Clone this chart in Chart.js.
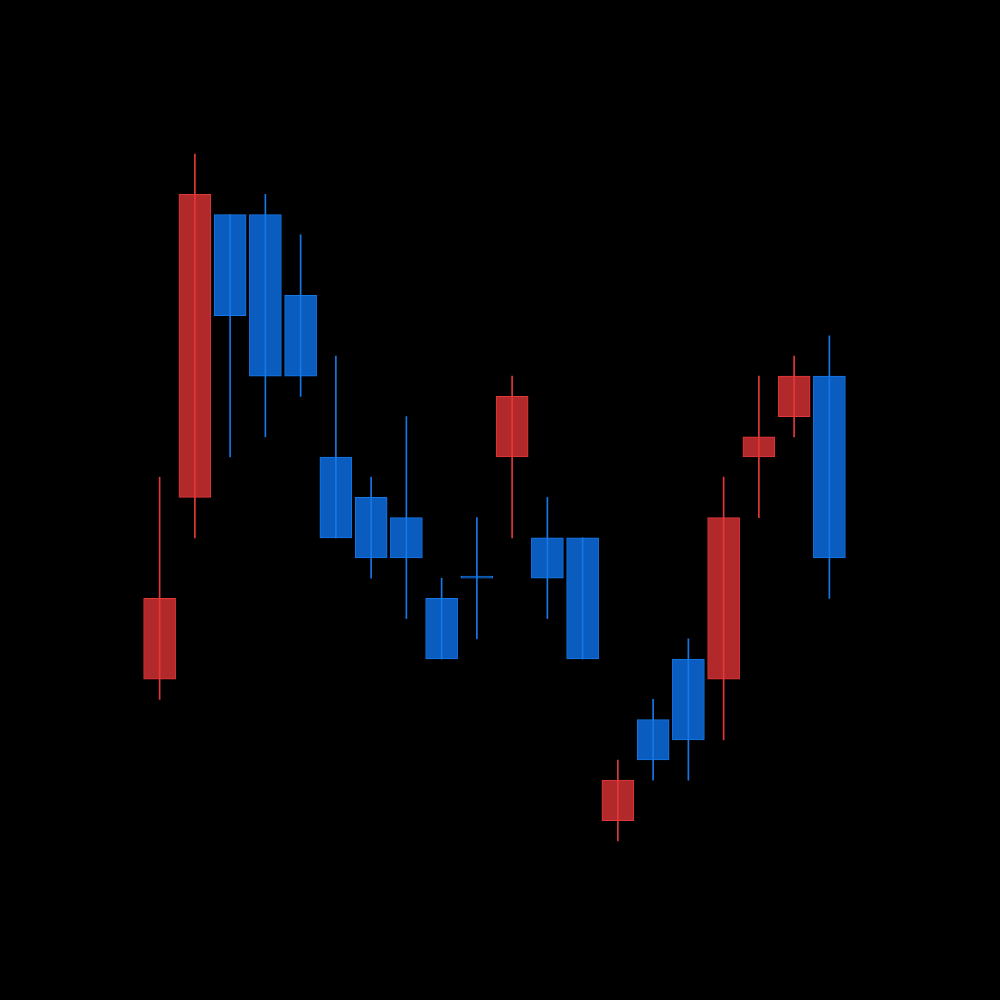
<!DOCTYPE html>
<html>
<head>
<meta charset="utf-8">
<script src="https://cdn.jsdelivr.net/npm/chart.js@4.4.1/dist/chart.umd.min.js"></script>
<style>
  html, body { margin: 0; padding: 0; background: #000; }
  #wrap { width: 1000px; height: 1000px; position: relative; background: #000; }
</style>
</head>
<body>
<div id="wrap"><canvas id="c"></canvas></div>
<script>
const categories = ['1','2','3','4','5','6','7','8','9','10','11','12','13','14','15','16','17','18','19','20'];
const opens  = [ 9, 18, 32, 32, 28, 20, 18, 17, 13, 14, 20, 16, 16, 2, 7, 10,  9, 20, 22, 24];
const closes = [13, 33, 27, 24, 24, 16, 15, 15, 10, 14, 23, 14, 10, 4, 5,  6, 17, 21, 24, 15];
const highs  = [19, 35, 32, 33, 31, 25, 19, 22, 14, 17, 24, 18, 16, 5, 8, 11, 19, 24, 25, 26];
const lows   = [ 8, 16, 20, 21, 23, 16, 14, 12, 10, 11, 16, 12, 10, 1, 4,  4,  6, 17, 21, 13];

const upFill = '#b2292b', upLine = '#e23838';
const downFill = '#0a5cbf', downLine = '#1678e8';

const isUp = opens.map((o, i) => closes[i] > o);
const bodyData = opens.map((o, i) => [o, closes[i]]);
const wickData = lows.map((l, i) => [l, highs[i]]);

new Chart(document.getElementById('c'), {
  type: 'bar',
  data: {
    labels: categories,
    datasets: [
      {
        label: 'wick',
        data: wickData,
        backgroundColor: isUp.map(u => u ? upLine : downLine),
        borderWidth: 0,
        barThickness: 1,
        grouped: false,
        order: 0
      },
      {
        label: 'body',
        data: bodyData,
        backgroundColor: isUp.map(u => u ? upFill : downFill),
        borderColor: isUp.map(u => u ? upLine : downLine),
        borderWidth: 1,
        borderSkipped: false,
        barThickness: 32,
        minBarLength: 2,
        grouped: false,
        order: 1
      }
    ]
  },
  options: {
    responsive: true,
    maintainAspectRatio: false,
    animation: false,
    layout: { padding: { left: 142, right: 153, top: 53, bottom: 139 } },
    plugins: { legend: { display: false }, tooltip: { enabled: false } },
    scales: {
      x: { type: 'category', display: false, offset: true, grid: { display: false } },
      y: { type: 'linear', display: false, min: 0, max: 40, grid: { display: false } }
    }
  }
});
</script>
</body>
</html>
